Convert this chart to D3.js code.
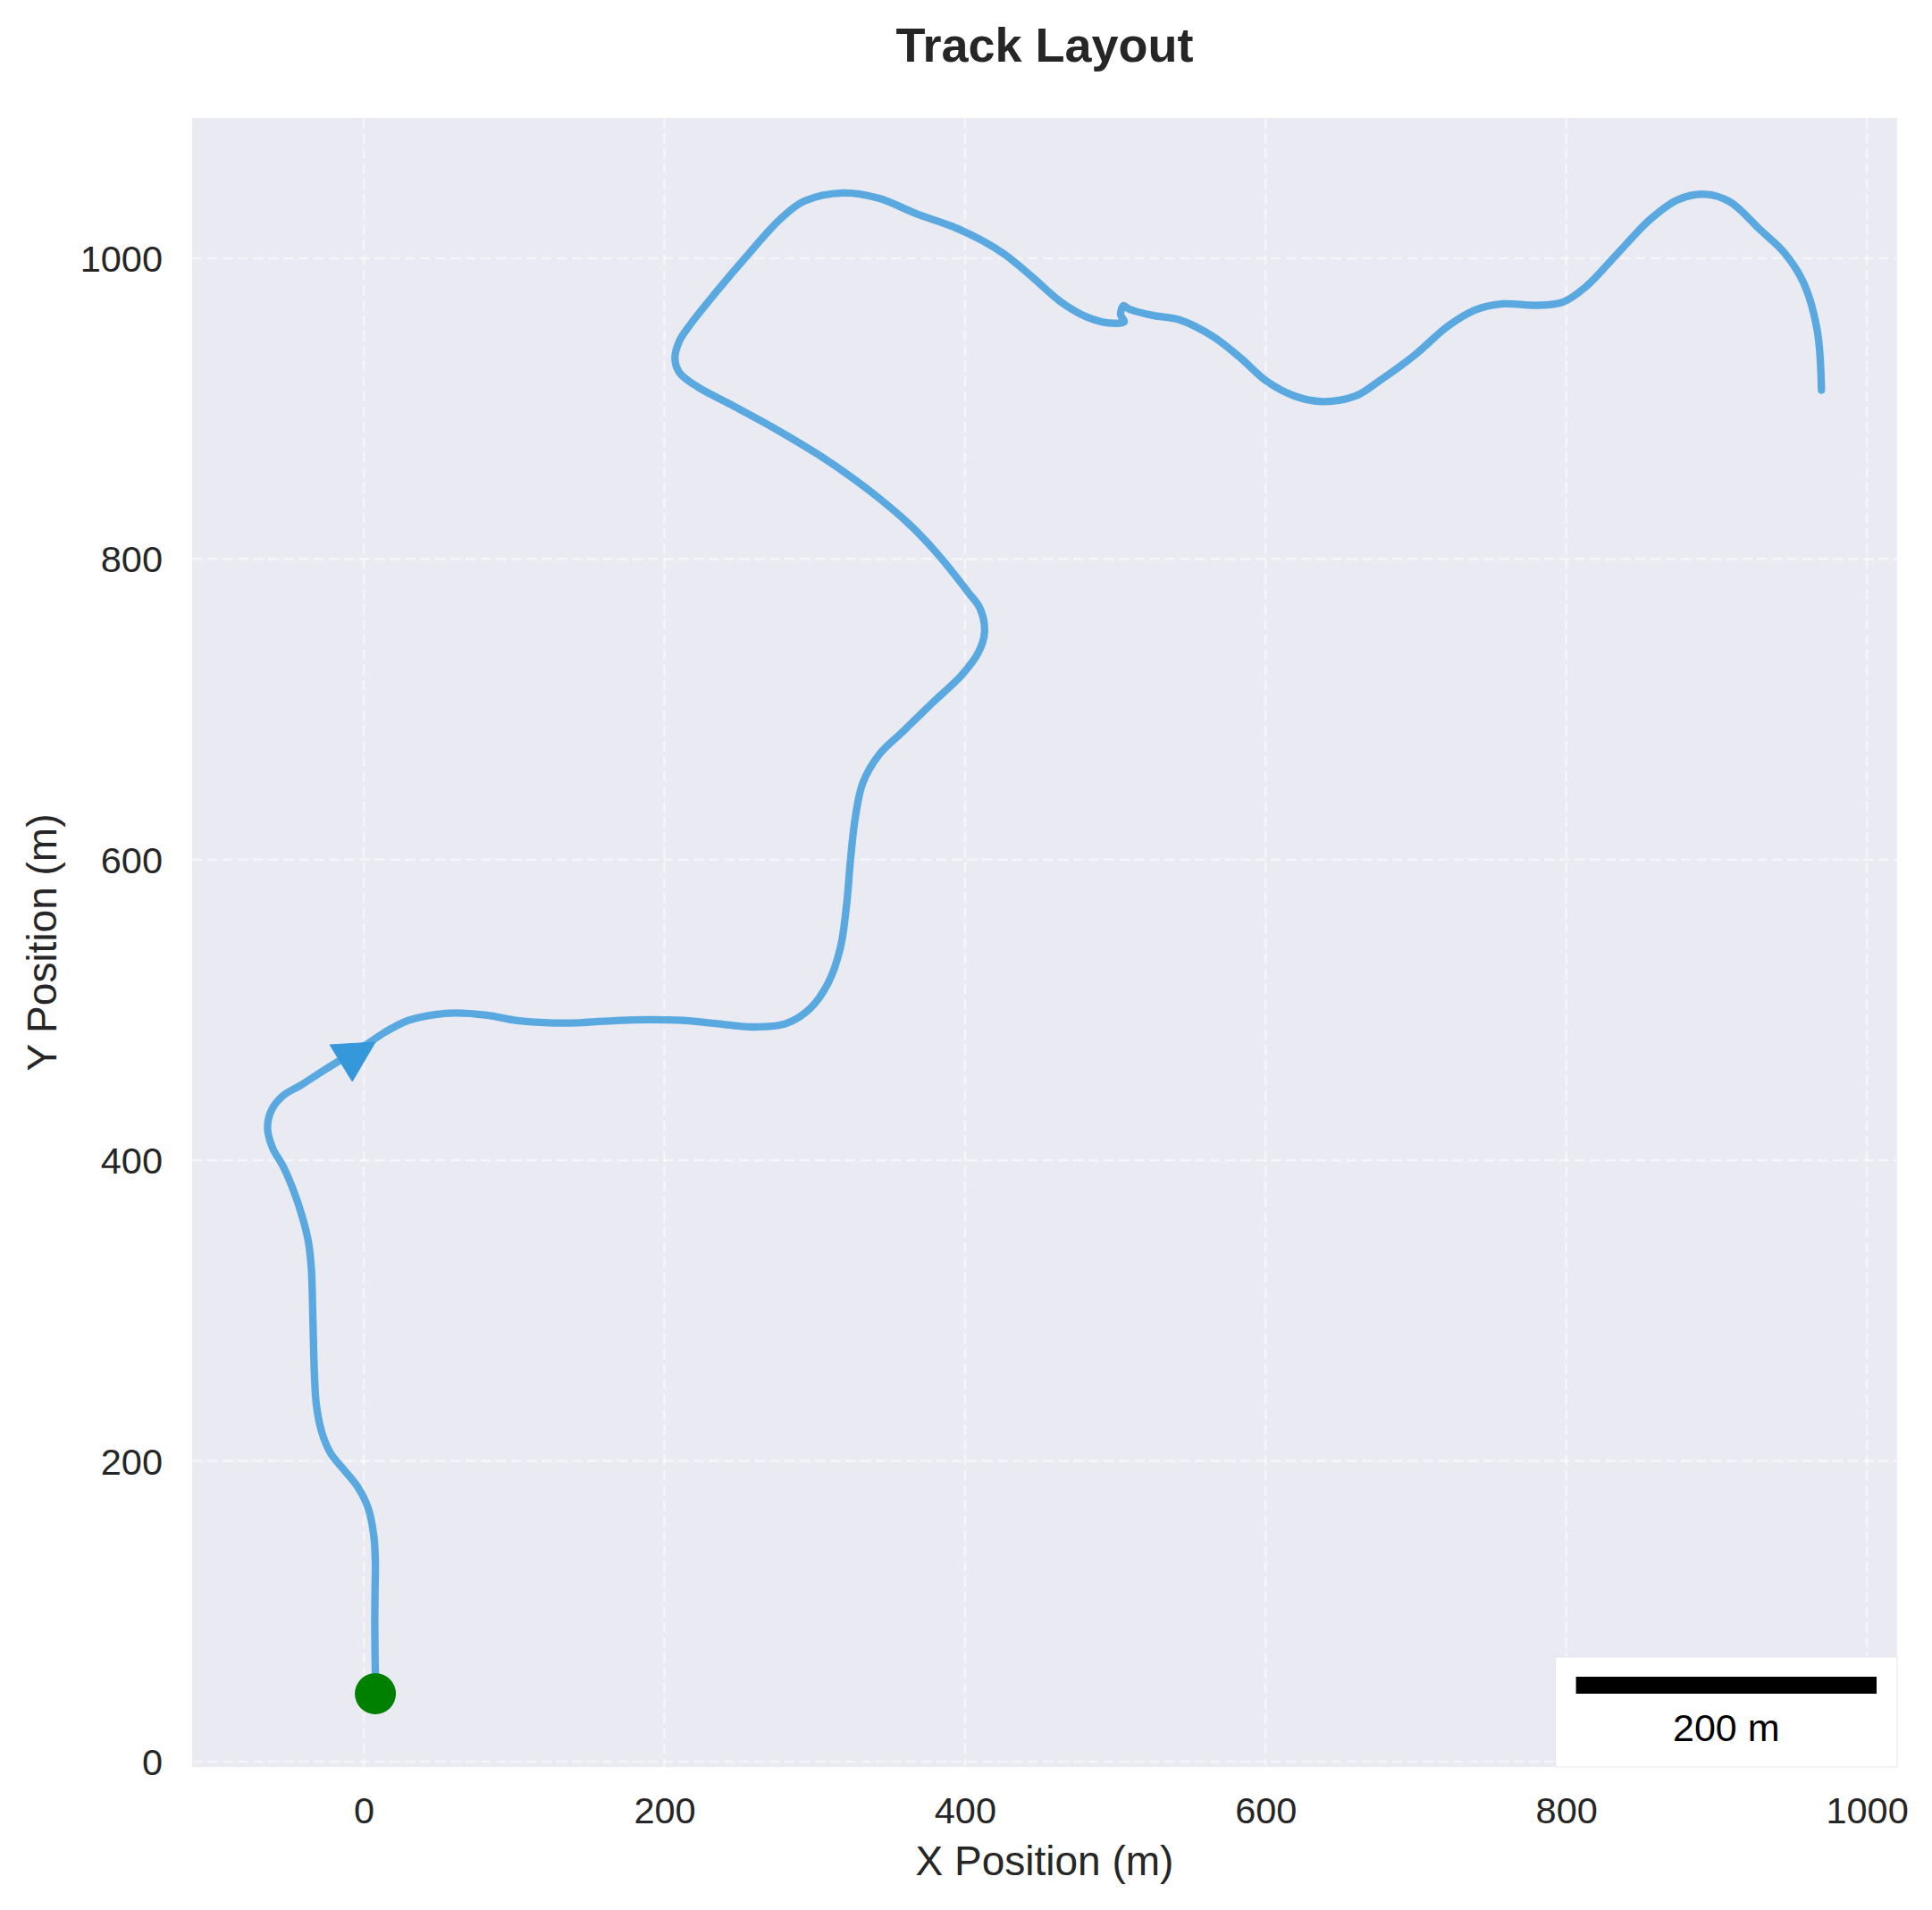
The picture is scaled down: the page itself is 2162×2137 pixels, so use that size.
<!DOCTYPE html>
<html>
<head>
<meta charset="utf-8">
<script src="https://cdn.jsdelivr.net/npm/d3@7"></script>
<style>
  html, body { margin: 0; padding: 0; background: #ffffff; }
  svg { display: block; }
  text { font-family: "Liberation Sans", Arial, Helvetica, sans-serif; }
</style>
</head>
<body>
<svg id="chart" width="2162" height="2137"></svg>
<script>
// ---------------- Data ----------------
const trackX = [8, 7.5, 7.3, 7.5, 7.7, 6.7, 2.8, -4.2, -13.1, -22, -27.9, -31.5, -32.9, -33.9, -34.9, -36.9, -40.8, -46.8, -53.7, -60.6, -64, -61.6, -53.7, -41.8, -27.9, -14.1, 1.8, 13.7, 29.5, 47.4, 61, 82, 102, 123, 143, 168, 190, 214, 234, 259, 281, 297, 309, 317, 321, 324, 327, 332, 343, 358.5, 378, 398, 409, 413, 410, 402, 382, 362.5, 342.6, 325, 303, 273, 243.6, 222, 210, 207, 210, 218, 234, 253.5, 277, 293, 319, 342.6, 368, 392, 412, 426.6, 444.8, 463, 481, 495.7, 505.9, 503.5, 505.5, 509, 525, 543, 565, 583, 601, 619.5, 637.7, 659.6, 677.8, 699.6, 721.5, 739.7, 758, 780, 798, 812.5, 834.3, 856, 874.4, 892.6, 909, 929, 945.4, 958, 967, 969.8];
const trackY = [45, 70, 94, 115, 132, 150, 169, 183, 194, 205, 219, 237, 259, 296, 328, 346, 362, 380, 396, 408, 421, 433, 443, 450, 459, 467.5, 477, 485, 493, 497, 498, 496.5, 493, 491.5, 491.5, 493, 493.5, 493, 491, 488.7, 491, 501, 518, 541, 568, 602, 628, 651, 670, 685, 704, 723, 738, 751.5, 767, 778, 803, 823.5, 840.6, 854, 869, 887, 903, 914.5, 924, 933.5, 945, 957, 977, 1000, 1026, 1038, 1043.5, 1040, 1029.5, 1021, 1011.5, 1002.4, 987.5, 971.6, 961, 957, 957.8, 962.5, 968.5, 966.3, 962, 959, 948, 934, 918, 908.3, 904.7, 908.3, 920, 936, 955, 965.7, 969.7, 968.7, 971, 980.6, 1003.4, 1026, 1039, 1042.6, 1037.5, 1019, 1003.4, 983.5, 952, 912.2];
const startPoint = [7.7, 45.2];
const arrowTail = [-15.2, 464.6];
const arrowTip = [7.7, 478.6];
const xTicks = [0, 200, 400, 600, 800, 1000];
const yTicks = [0, 200, 400, 600, 800, 1000];
const scaleBarLength = 200;
const scaleBarLabel = "200 m";
const titleText = "Track Layout";
const xLabelText = "X Position (m)";
const yLabelText = "Y Position (m)";

// ---------------- Layout ----------------
const W = 2162, H = 2137;
const plot = { left: 215, right: 2123, top: 132, bottom: 1977 };
const pxPerM = 1.682;
const x0px = 407.1, y0px = 1971;
const xDomain = [(plot.left - x0px) / pxPerM, (plot.right - x0px) / pxPerM];
const yDomain = [(y0px - plot.bottom) / pxPerM, (y0px - plot.top) / pxPerM];

const x = d3.scaleLinear().domain(xDomain).range([plot.left, plot.right]);
const y = d3.scaleLinear().domain(yDomain).range([plot.bottom, plot.top]);

const svg = d3.select("#chart");
const textColor = "#262626";

// background
svg.append("rect").attr("x", 0).attr("y", 0).attr("width", W).attr("height", H).attr("fill", "#ffffff");
svg.append("rect")
  .attr("x", plot.left).attr("y", plot.top)
  .attr("width", plot.right - plot.left).attr("height", plot.bottom - plot.top)
  .attr("fill", "#EAEAF2");

// grid
const grid = svg.append("g").attr("stroke", "#ffffff").attr("stroke-opacity", 0.5)
  .attr("stroke-width", 2.6).attr("stroke-dasharray", "11.5,5.5");
grid.selectAll("line.gx").data(xTicks).join("line").attr("class", "gx")
  .attr("x1", d => x(d)).attr("x2", d => x(d)).attr("y1", plot.top).attr("y2", plot.bottom);
grid.selectAll("line.gy").data(yTicks).join("line").attr("class", "gy")
  .attr("y1", d => y(d)).attr("y2", d => y(d)).attr("x1", plot.left).attr("x2", plot.right);

// axes (tick labels only, no spines / tick marks)
const xAxis = d3.axisBottom(x).tickValues(xTicks).tickSize(0).tickPadding(0).tickFormat(d3.format("d"));
const gx = svg.append("g").attr("transform", `translate(0,${plot.bottom})`).call(xAxis);
gx.select(".domain").remove();
gx.selectAll("text").attr("y", 2040 - plot.bottom).attr("dy", null)
  .attr("font-size", 41.5).attr("fill", textColor)
  .style("font-family", "'Liberation Sans', Arial, sans-serif");

const yAxis = d3.axisLeft(y).tickValues(yTicks).tickSize(0).tickPadding(0).tickFormat(d3.format("d"));
const gy = svg.append("g").attr("transform", `translate(${plot.left},0)`).call(yAxis);
gy.select(".domain").remove();
gy.selectAll("text").attr("x", 182 - plot.left).attr("dy", "0.35em")
  .attr("font-size", 41.5).attr("fill", textColor).attr("text-anchor", "end")
  .style("font-family", "'Liberation Sans', Arial, sans-serif");

// track line
const pts = trackX.map((v, i) => [v, trackY[i]]);
const line = d3.line().x(d => x(d[0])).y(d => y(d[1])).curve(d3.curveCatmullRom.alpha(0.5));
svg.append("path").datum(pts)
  .attr("d", line)
  .attr("fill", "none")
  .attr("stroke", "#3498db").attr("stroke-opacity", 0.8)
  .attr("stroke-width", 8.3)
  .attr("stroke-linecap", "round").attr("stroke-linejoin", "round");

// direction arrow head
(function () {
  const tx = x(arrowTip[0]), ty = y(arrowTip[1]);
  const bx = x(arrowTail[0]), by = y(arrowTail[1]);
  const dx = tx - bx, dy = ty - by, len = Math.hypot(dx, dy);
  const ux = dx / len, uy = dy / len;
  const headLen = 45, halfW = 24;
  const baseX = tx - ux * headLen, baseY = ty - uy * headLen;
  const p = [[tx, ty], [baseX - uy * halfW, baseY + ux * halfW], [baseX + uy * halfW, baseY - ux * halfW]];
  svg.append("path").attr("d", "M" + p.map(q => q.join(",")).join("L") + "Z")
    .attr("fill", "#3498db").attr("stroke", "#3498db").attr("stroke-width", 1);
})();

// start marker
svg.append("circle").attr("cx", x(startPoint[0])).attr("cy", y(startPoint[1])).attr("r", 23)
  .attr("fill", "#008000");

// scale bar
(function () {
  const barLen = x(scaleBarLength) - x(0);
  const pad = 23;
  const boxW = barLen + 2 * pad;
  const boxH = 123;
  const bx = plot.right - boxW, by = plot.bottom - boxH;
  svg.append("rect").attr("x", bx).attr("y", by).attr("width", boxW).attr("height", boxH)
    .attr("fill", "#ffffff").attr("stroke", "#e6e6e6").attr("stroke-width", 1);
  svg.append("rect").attr("x", bx + pad).attr("y", by + 22).attr("width", barLen).attr("height", 19)
    .attr("fill", "#000000");
  svg.append("text").attr("x", bx + boxW / 2).attr("y", by + 94)
    .attr("text-anchor", "middle").attr("font-size", 43).attr("fill", "#000000")
    .text(scaleBarLabel);
})();

// title and axis labels
svg.append("text").attr("x", (plot.left + plot.right) / 2).attr("y", 69)
  .attr("text-anchor", "middle").attr("font-size", 54).attr("font-weight", "bold")
  .attr("fill", textColor).text(titleText);
svg.append("text").attr("x", (plot.left + plot.right) / 2).attr("y", 2098)
  .attr("text-anchor", "middle").attr("font-size", 46).attr("fill", textColor).text(xLabelText);
svg.append("text").attr("transform", `translate(63,${(plot.top + plot.bottom) / 2}) rotate(-90)`)
  .attr("text-anchor", "middle").attr("font-size", 46).attr("fill", textColor).text(yLabelText);
</script>
</body>
</html>
